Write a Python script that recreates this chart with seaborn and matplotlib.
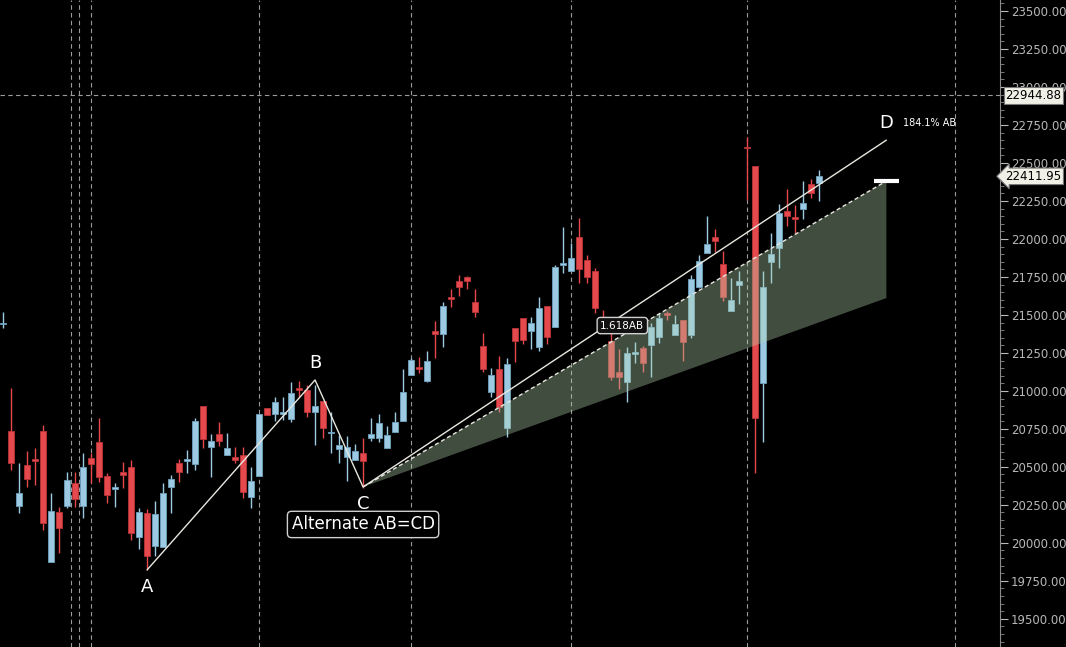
import matplotlib
matplotlib.use("Agg")
import matplotlib.pyplot as plt
import seaborn as sns
import numpy as np
import pandas as pd

# daily candles, oldest first
opens = [21440, 20736, 20243, 20513, 20550, 20736, 19875, 20204, 20243, 20394,
         20243, 20559, 20664, 20440, 20355, 20467, 20500, 20039, 20197, 19980,
         19973, 20368, 20526, 20540, 20519, 20901, 20631, 20717, 20579, 20565,
         20579, 20302, 20440, 20888, 20848, 20850, 20815, 21019, 21006, 20861,
         20934, 20720, 20618, 20565, 20546, 20592, 20690, 20690, 20624, 20730,
         20802, 21105, 21155, 21065, 21394, 21375, 21618, 21723, 21750, 21585,
         21296, 20993, 21144, 20756, 21414, 21480, 21394, 21289, 21559, 21421,
         21830, 21789, 22013, 21861, 21789, 21460, 21329, 21125, 21059, 21245,
         21282, 21302, 21355, 21510, 21368, 21467, 21368, 21684, 21908, 22013,
         21835, 21526, 21697, 22605, 22480, 21052, 21848, 21940, 22184, 22144,
         22197, 22361, 22368]
highs = [21520, 21019, 20526, 20605, 20624, 20776, 20329, 20236, 20467, 20467,
         20592, 20592, 20822, 20460, 20394, 20532, 20546, 20230, 20223, 20276,
         20394, 20447, 20552, 20611, 20822, 20901, 20717, 20796, 20723, 20631,
         20631, 20500, 20848, 20888, 20960, 20960, 21059, 21065, 21039, 21039,
         20934, 20861, 20710, 20704, 20651, 20690, 20822, 20848, 20769, 20861,
         21144, 21217, 21223, 21263, 21460, 21585, 21671, 21763, 21756, 21671,
         21381, 21151, 21230, 21217, 21414, 21480, 21486, 21618, 21559, 21829,
         22079, 21973, 22138, 21894, 21809, 21533, 21480, 21276, 21289, 21322,
         21296, 21447, 21513, 21526, 21500, 21467, 21763, 21894, 22151, 22065,
         21921, 21743, 21789, 22671, 22480, 21789, 22039, 22230, 22329, 22223,
         22381, 22394, 22454]
lows = [21415, 20480, 20197, 20368, 20381, 20085, 19875, 19934, 20230, 20236,
        20164, 20394, 20401, 20263, 20236, 20361, 20019, 19960, 19822, 19914,
        19973, 20197, 20401, 20460, 20480, 20624, 20434, 20638, 20579, 20526,
        20296, 20230, 20440, 20842, 20802, 20809, 20796, 20960, 20829, 20644,
        20690, 20592, 20526, 20407, 20546, 20361, 20671, 20664, 20624, 20730,
        20802, 21105, 21118, 21059, 21217, 21289, 21552, 21625, 21671, 21486,
        21125, 20960, 20861, 20697, 21190, 21309, 21276, 21263, 21309, 21421,
        21776, 21789, 21710, 21710, 21513, 21434, 21072, 21013, 20927, 21184,
        21125, 21092, 21315, 21467, 21368, 21197, 21348, 21677, 21908, 21914,
        21592, 21526, 21572, 22256, 20460, 20664, 21710, 21809, 22085, 22039,
        22131, 22269, 22250]
closes = [21450, 20526, 20329, 20421, 20540, 20131, 20210, 20098, 20414, 20289,
          20500, 20519, 20434, 20315, 20365, 20447, 20065, 20204, 19914, 20190,
          20329, 20421, 20467, 20550, 20802, 20684, 20671, 20671, 20624, 20546,
          20335, 20407, 20848, 20842, 20927, 20860, 20986, 21006, 20861, 20901,
          20756, 20730, 20644, 20631, 20605, 20539, 20717, 20789, 20710, 20796,
          20993, 21204, 21144, 21197, 21375, 21559, 21605, 21684, 21723, 21519,
          21144, 21105, 20894, 21177, 21329, 21335, 21447, 21546, 21355, 21815,
          21840, 21875, 21802, 21750, 21546, 21434, 21092, 21092, 21250, 21255,
          21184, 21421, 21480, 21500, 21440, 21322, 21736, 21855, 21967, 21986,
          21618, 21598, 21723, 22595, 20822, 21684, 21901, 22171, 22151, 22131,
          22236, 22302, 22412]

# AB=CD pattern points (bar index, price)
pattern_names = ["A", "B", "C", "D"]
pattern_bars = [18, 39, 45, 110.4]
pattern_prices = [19822, 21072, 20368, 22650]
band_end_bar = 110.4
band_upper_end = 22381
band_lower_end = 21611
session_bars = [8.5, 9.5, 11, 32, 51, 71, 93, 119]
ref_price = 22944.88
last_price = 22411.95
ytick_values = list(range(19500, 23501, 250))

sns.set_style("dark", {"axes.facecolor": "black", "figure.facecolor": "black"})

fig = plt.figure(figsize=(10.66, 6.47), dpi=100)
ax = fig.add_axes([0, 0, 1000 / 1066, 1])
ax.set_facecolor("black")

red = "#e5484d"
blue = "#9ccae3"
idx = np.arange(len(opens))
o = np.array(opens); h = np.array(highs); l = np.array(lows); c = np.array(closes)
up = c >= o
cols = np.where(up, blue, red)
ax.vlines(idx, l, h, colors=cols, linewidth=1, zorder=2)
bottom = np.minimum(o, c)
height = np.maximum(np.abs(c - o), 8)
ax.bar(idx, height, bottom=bottom, width=0.75, color=cols,
       edgecolor=np.where(up, "#6fa3c0", "#b8353a"), linewidth=0.6, zorder=3)

for b in session_bars:
    ax.axvline(b, color="#9a9a9a", linestyle=(0, (4, 3)), linewidth=0.8, zorder=1)
ax.axhline(ref_price, color="#9a9a9a", linestyle=(0, (4, 3)), linewidth=0.8, zorder=1)

# projection band from C
cx, cy = pattern_bars[2], pattern_prices[2]
ax.fill([cx, band_end_bar, band_end_bar], [cy, band_upper_end, band_lower_end],
        color="#b5d6b0", alpha=0.36, linewidth=0, zorder=4)
ax.plot([cx, band_end_bar], [cy, band_upper_end], color="#e8e8e0",
        linestyle=(0, (3, 2)), linewidth=1, zorder=5)
ax.plot([band_end_bar - 1.6, band_end_bar + 1.6], [band_upper_end, band_upper_end],
        color="white", linewidth=3, zorder=5, solid_capstyle="butt")

pat = pd.DataFrame({"bar": pattern_bars, "price": pattern_prices})
sns.lineplot(data=pat, x="bar", y="price", sort=False, color="#e8e8e0",
             linewidth=1, ax=ax, zorder=6)

offsets = [-12, 12, -12, 12]
for name, bx, py, off in zip(pattern_names, pattern_bars, pattern_prices, offsets):
    ax.annotate(name, (bx, py), xytext=(0, off), textcoords="offset points",
                ha="center", va="center", color="white", fontsize=13, zorder=7)
ax.annotate("184.1% AB", (pattern_bars[3], pattern_prices[3]), xytext=(12, 12),
            textcoords="offset points", ha="left", va="center", color="white",
            fontsize=7, zorder=7)
ax.annotate("Alternate AB=CD", (cx, cy), xytext=(0, -27), textcoords="offset points",
            ha="center", va="center", color="white", fontsize=12, zorder=7,
            bbox=dict(boxstyle="round,pad=0.25", fc="black", ec="#d0d0d0", lw=1))
ax.text(77.4, 21430, "1.618AB", ha="center", va="center", color="white", fontsize=7.5,
        zorder=7, bbox=dict(boxstyle="round,pad=0.3", fc="#111111", ec="#d0d0d0", lw=1))

ax.set_xlim(-0.375, 124.6)
ax.set_ylim(19315, 23572)
ax.set_xticks([])
ax.set_xlabel("")
ax.set_ylabel("")
ax.yaxis.tick_right()
ax.set_yticks(ytick_values)
ax.set_yticklabels([f"{v:.2f}" for v in ytick_values])
ax.set_yticks(np.arange(19350, 23572, 50), minor=True)
ax.tick_params(axis="y", which="major", colors="#b8b8b8", labelsize=8.5, length=6,
               direction="out", pad=2)
ax.tick_params(axis="y", which="minor", colors="#8a8a8a", length=3, direction="out")
for s in ["top", "left", "bottom"]:
    ax.spines[s].set_visible(False)
ax.spines["right"].set_color("#8a8a8a")
ax.grid(False)

# price tags sit on top of the axis labels, as in the trading terminal
for price, style in [(ref_price, "square,pad=0.15"), (last_price, "larrow,pad=0.15")]:
    ax.annotate(f"{price:.2f}", (1, price), xycoords=("axes fraction", "data"),
                xytext=(4, 0), textcoords="offset points", ha="left", va="center",
                fontsize=8.5, color="black", annotation_clip=False, zorder=8,
                bbox=dict(boxstyle=style, fc="#f0f0e6", ec="#777777", lw=0.8))

fig.savefig("out.png", dpi=100, facecolor="black")
